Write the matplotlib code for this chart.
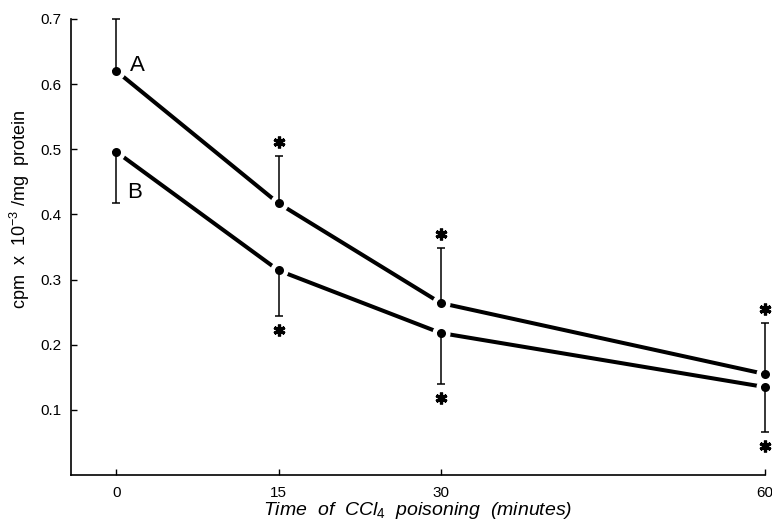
import matplotlib
matplotlib.use("Agg")
import matplotlib.pyplot as plt
import matplotlib.transforms as mtransforms

# ---- data ----
time_min = [0, 15, 30, 60]
a_mean = [0.620, 0.417, 0.264, 0.155]
a_err_up = [0.080, 0.073, 0.085, 0.078]
b_mean = [0.496, 0.314, 0.218, 0.135]
b_err_down = [0.078, 0.070, 0.078, 0.069]
a_signif = [False, True, True, True]
b_signif = [False, True, True, True]
x_ticks = [0, 15, 30, 60]
y_ticks = [0.1, 0.2, 0.3, 0.4, 0.5, 0.6, 0.7]

plt.rcParams['font.family'] = ['Liberation Sans', 'DejaVu Sans']
plt.rcParams['mathtext.fontset'] = 'custom'
plt.rcParams['mathtext.rm'] = 'Liberation Sans'
plt.rcParams['mathtext.it'] = 'Liberation Sans:italic'

fig = plt.figure(figsize=(7.72, 5.23), dpi=100)
ax = fig.add_axes([71/772, 1-475/523, (765-71)/772, (475-19)/523])

ax.set_xlim(-4.2, 60)
ax.set_ylim(0, 0.7)

# connecting lines
ax.plot(time_min, a_mean, '-', color='black', lw=2.9, zorder=2, clip_on=False,
        solid_capstyle='butt')
ax.plot(time_min, b_mean, '-', color='black', lw=2.9, zorder=2, clip_on=False,
        solid_capstyle='butt')

# points with white rim to open a gap in the line
ax.plot(time_min, a_mean, 'o', color='black', markersize=6, mec='white', mew=7,
        zorder=3, clip_on=False)
ax.plot(time_min, b_mean, 'o', color='black', markersize=6, mec='white', mew=7,
        zorder=3, clip_on=False)
ax.plot(time_min, a_mean, 'o', color='black', markersize=6.5, mew=0, zorder=4, clip_on=False)
ax.plot(time_min, b_mean, 'o', color='black', markersize=6.5, mew=0, zorder=4, clip_on=False)

# error bars (one-sided)
ea = ax.errorbar(time_min, a_mean, yerr=[[0]*4, a_err_up], fmt='none', ecolor='black',
                 elinewidth=1.1, capsize=2.8, capthick=1.1, zorder=5)
eb = ax.errorbar(time_min, b_mean, yerr=[b_err_down, [0]*4], fmt='none', ecolor='black',
                 elinewidth=1.1, capsize=2.8, capthick=1.1, zorder=5)
for cont in (ea, eb):
    for art in cont.get_children():
        art.set_clip_on(False)

# significance asterisks
up = mtransforms.offset_copy(ax.transData, fig=fig, x=0, y=10, units='points')
down = mtransforms.offset_copy(ax.transData, fig=fig, x=0, y=-10, units='points')
for t, m, e, s in zip(time_min, a_mean, a_err_up, a_signif):
    if s:
        ax.plot([t], [m + e], marker=(6, 2, 0), markersize=8.5, mew=2.3, color='black',
                transform=up, clip_on=False)
for t, m, e, s in zip(time_min, b_mean, b_err_down, b_signif):
    if s:
        ax.plot([t], [m - e], marker=(6, 2, 0), markersize=8.5, mew=2.3, color='black',
                transform=down, clip_on=False)

# series labels
ax.annotate('A', xy=(time_min[0], a_mean[0]), xytext=(10, 0), textcoords='offset points',
            fontsize=16, ha='left', va='baseline')
ax.annotate('B', xy=(time_min[0], b_mean[0]), xytext=(8, -33), textcoords='offset points',
            fontsize=16, ha='left', va='baseline')

# axes styling
for side in ('top', 'right'):
    ax.spines[side].set_visible(False)
ax.spines['left'].set_linewidth(1.2)
ax.spines['bottom'].set_linewidth(1.2)
ax.set_xticks(x_ticks)
ax.set_xticklabels([str(v) for v in x_ticks])
ax.set_yticks(y_ticks)
ax.set_yticklabels([f'{v:.1f}' for v in y_ticks])
ax.tick_params(direction='in', length=4, width=1, labelsize=11, pad=8)
ax.tick_params(axis='y', pad=7)

ax.set_xlabel(r'Time  of  CCl$_4$  poisoning  (minutes)', fontsize=14, style='italic', labelpad=0)
ax.set_ylabel(r'cpm  x  10$^{-3}$ /mg  protein', fontsize=13)
ax.yaxis.label.set_va('center')
ax.yaxis.set_label_coords(-0.074, 0.583)

fig.savefig('out.png', dpi=100)
